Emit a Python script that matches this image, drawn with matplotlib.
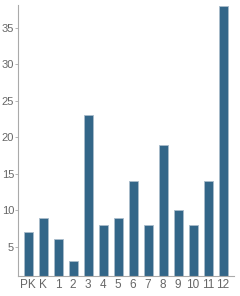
import matplotlib
matplotlib.use("Agg")
import matplotlib.pyplot as plt

plt.rcParams["font.family"] = ["Liberation Sans", "DejaVu Sans"]

categories = ["PK", "K", "1", "2", "3", "4", "5", "6", "7", "8", "9", "10", "11", "12"]
values = [7, 9, 6, 3, 23, 8, 9, 14, 8, 19, 10, 8, 14, 38]
yticks = [5, 10, 15, 20, 25, 30, 35]

fig = plt.figure(figsize=(2.4, 2.96), dpi=100)
ax = fig.add_axes([0.073, 0.0676, 0.9, 0.915])
x = list(range(len(categories)))
ax.bar(x, values, width=0.6, color="#336688", edgecolor="#a9bccb", linewidth=0.6, bottom=0)
ax.set_xlim(-0.7, len(categories) - 0.3)
ax.set_ylim(1, 38.1)
ax.set_xticks(x)
ax.set_xticklabels(categories)
ax.set_yticks(yticks)
for s in ["top", "right"]:
    ax.spines[s].set_visible(False)
for s in ["left", "bottom"]:
    ax.spines[s].set_color("#aaaaaa")
    ax.spines[s].set_linewidth(0.8)
ax.tick_params(axis="y", colors="#aaaaaa", labelcolor="#666666", labelsize=8, length=2, width=0.6, pad=0.5)
ax.tick_params(axis="x", colors="#aaaaaa", labelcolor="#666666", labelsize=8.5, length=0, pad=2)
fig.savefig("out.png", dpi=100)
